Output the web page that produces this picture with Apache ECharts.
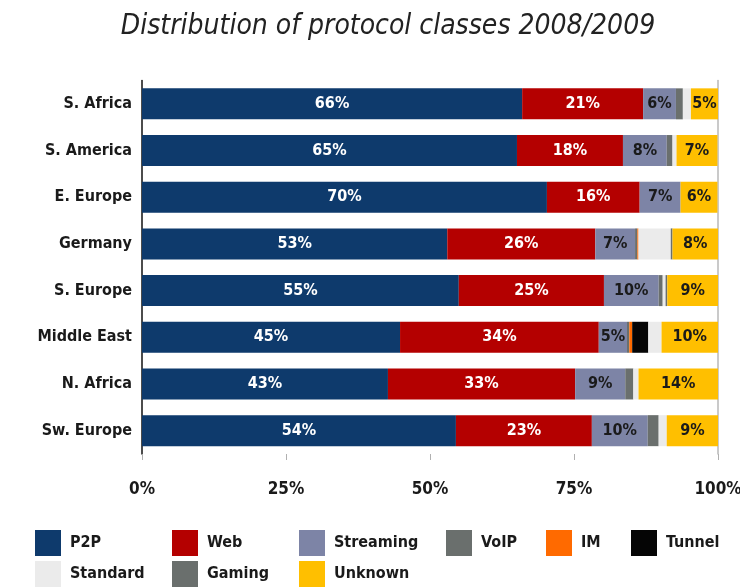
<!DOCTYPE html>
<html><head><meta charset="utf-8">
<script src="https://cdn.jsdelivr.net/npm/echarts@6/dist/echarts.min.js"></script>
<style>html,body{margin:0;padding:0;background:#fff}#c{width:740px;height:587px}</style>
</head><body><div id="c"></div>
<script>
const categories = ["S. Africa","S. America","E. Europe","Germany","S. Europe","Middle East","N. Africa","Sw. Europe"];
const seriesNames = ["P2P","Web","Streaming","VoIP","IM","Tunnel","Standard","Gaming","Unknown"];
const p2p       = [66.0, 65.1, 70.3, 53.0, 55.0, 44.8, 42.7, 54.5];
const web       = [21.0, 18.4, 16.1, 25.7, 25.2, 34.5, 32.5, 23.6];
const streaming = [5.7, 7.6, 7.1, 6.9, 9.5, 4.9, 8.7, 9.7];
const voip      = [1.2, 1.0, 0, 0.4, 0.7, 0.4, 1.4, 1.9];
const im        = [0, 0, 0, 0.2, 0, 0.5, 0, 0];
const tunnel    = [0, 0, 0, 0, 0, 2.8, 0, 0];
const standard  = [1.4, 0.7, 0, 5.6, 0.5, 2.3, 0.9, 1.4];
const gaming    = [0, 0, 0, 0.3, 0.3, 0, 0, 0];
const unknown   = [4.7, 7.1, 6.4, 8.0, 8.8, 9.9, 13.9, 8.9];
const p2pLabels       = ["66%","65%","70%","53%","55%","45%","43%","54%"];
const webLabels       = ["21%","18%","16%","26%","25%","34%","33%","23%"];
const streamingLabels = ["6%","8%","7%","7%","10%","5%","9%","10%"];
const unknownLabels   = ["5%","7%","6%","8%","9%","10%","14%","9%"];
const xTicks = [0, 25, 50, 75, 100];

const FONT = '"DejaVu Sans Condensed",sans-serif';
const colors = ["#0e3a6c","#b40000","#7d84a6","#6a6f6d","#ff6a00","#050505","#ebebeb","#6a6f6d","#ffbf00"];
const values = [p2p, web, streaming, voip, im, tunnel, standard, gaming, unknown];
const labelSets = [p2pLabels, webLabels, streamingLabels, null, null, null, null, null, unknownLabels];
const labelColors = ["#ffffff","#ffffff","#1a1a1a",null,null,null,null,null,"#1a1a1a"];

const series = seriesNames.map((name, i) => ({
  name, type: 'bar', stack: 'total', barWidth: 31,
  itemStyle: { color: colors[i] },
  data: values[i],
  label: labelSets[i] ? {
    show: true, position: 'inside', color: labelColors[i],
    fontFamily: FONT, fontSize: 16, fontWeight: 'bold',
    formatter: p => labelSets[i][p.dataIndex]
  } : { show: false },
  emphasis: { disabled: true }
}));

const legendX = [[35,530],[172,530],[299,530],[446,530],[546,530],[631,530],[35,561],[172,561],[299,561]];
const legends = seriesNames.map((n, i) => ({
  data: [n], left: legendX[i][0], top: legendX[i][1], padding: 0,
  itemWidth: 26, itemHeight: 26, icon: 'rect', itemGap: 10,
  textStyle: { fontFamily: FONT, fontSize: 16, fontWeight: 'bold', color: '#1a1a1a', padding: [0,0,0,4] },
  selectedMode: false
}));

const chart = echarts.init(document.getElementById('c'), null, { renderer: 'canvas' });
chart.setOption({
  animation: false,
  title: {
    text: 'Distribution of protocol classes 2008/2009',
    left: 383, top: 8, textAlign: 'center',
    textStyle: { fontFamily: FONT, fontStyle: 'italic', fontWeight: 'normal', fontSize: 28, color: '#222' }
  },
  legend: legends,
  grid: { left: 142, right: 22, top: 80.5, bottom: 133, containLabel: false, outerBoundsMode: 'none' },
  xAxis: {
    type: 'value', min: 0, max: 100, interval: 25,
    axisLine: { show: false },
    axisTick: { show: true, length: 6, lineStyle: { color: '#b0b0b0' } },
    splitLine: { show: false },
    axisLabel: { margin: 27, fontFamily: FONT, fontSize: 17, fontWeight: 'bold', color: '#1a1a1a', formatter: v => v + '%' }
  },
  yAxis: [{
    type: 'category', data: categories, inverse: true, position: 'left',
    axisLine: { show: true, lineStyle: { color: '#111', width: 1.5 } },
    axisTick: { show: false },
    axisLabel: { margin: 10, fontFamily: FONT, fontSize: 16, fontWeight: 'bold', color: '#1a1a1a' }
  }, {
    type: 'category', data: categories, inverse: true, position: 'right',
    axisLine: { show: true, lineStyle: { color: '#b8b8b8', width: 1.5 } },
    axisTick: { show: false }, axisLabel: { show: false }
  }],
  series
});
</script></body></html>
